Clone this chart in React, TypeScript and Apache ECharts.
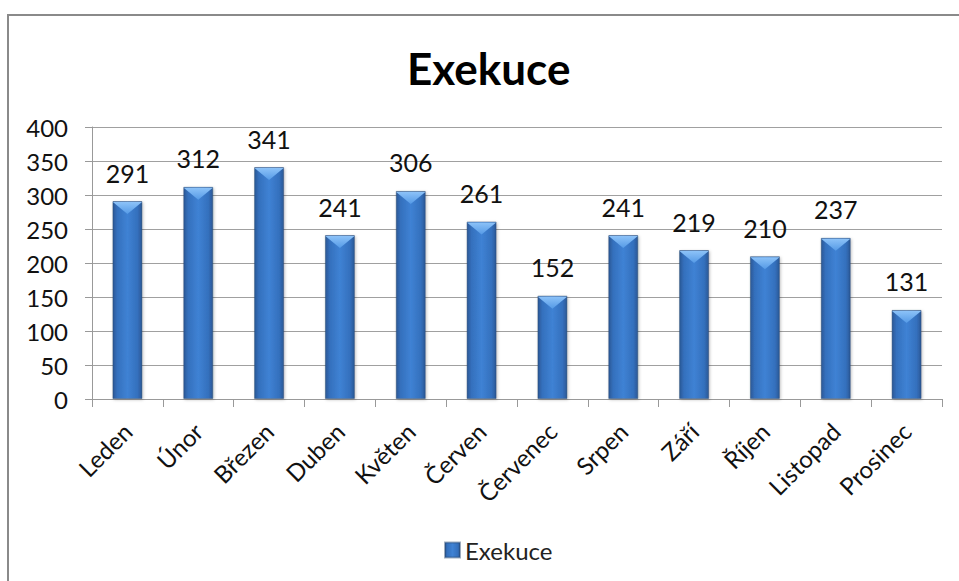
import React, { useEffect, useRef } from "react";
import * as echarts from "echarts";

const categories = ["Leden", "Únor", "Březen", "Duben", "Květen", "Červen", "Červenec", "Srpen", "Září", "Říjen", "Listopad", "Prosinec"];
const values = [291, 312, 341, 241, 306, 261, 152, 241, 219, 210, 237, 131];
const seriesName = "Exekuce";
const titleText = "Exekuce";

const FONT = "Lato, 'Open Sans', sans-serif";

export default function App() {
  const ref = useRef<HTMLDivElement>(null);
  useEffect(() => {
    if (!ref.current) return;
    const chart = echarts.init(ref.current, null, { renderer: "svg" });
    const barGrad = new echarts.graphic.LinearGradient(0, 0, 1, 0, [
      { offset: 0, color: "#2b5896" },
      { offset: 0.15, color: "#3470bd" },
      { offset: 0.5, color: "#3f82d4" },
      { offset: 0.85, color: "#3470bd" },
      { offset: 1, color: "#2b5896" },
    ]);
    chart.setOption({
      animation: false,
      backgroundColor: "#ffffff",
      title: {
        text: titleText,
        left: 402,
        top: 41,
        textStyle: { fontFamily: FONT, fontSize: 44, fontWeight: "bold", color: "#000" },
      },
      graphic: [
        {
          type: "rect",
          shape: { x: 8, y: 15, width: 980, height: 620 },
          style: { fill: "none", stroke: "#8a8a8a", lineWidth: 2 },
          silent: true,
        },
      ],
      legend: {
        data: [seriesName],
        bottom: 14,
        left: 439,
        icon: "rect",
        itemWidth: 15,
        itemHeight: 15,
        itemGap: 6,
        textStyle: { fontFamily: FONT, fontSize: 24, color: "#222" },
      },
      grid: { left: 92, top: 127, right: 17, bottom: 182, containLabel: false },
      xAxis: {
        type: "category",
        data: categories,
        boundaryGap: true,
        axisLine: { show: true, lineStyle: { color: "#999", width: 1 } },
        axisTick: { show: true, length: 8, alignWithLabel: false, lineStyle: { color: "#999" } },
        axisLabel: { rotate: 45, margin: 28, fontFamily: FONT, fontSize: 24, color: "#111", interval: 0 },
      },
      yAxis: {
        type: "value",
        min: 0,
        max: 400,
        interval: 50,
        axisLine: { show: true, lineStyle: { color: "#999", width: 1 } },
        axisTick: { show: true, length: 7, lineStyle: { color: "#999" } },
        axisLabel: { margin: 24, fontFamily: FONT, fontSize: 24, color: "#111" },
        splitLine: { show: true, lineStyle: { color: "#a0a0a0", width: 1 } },
      },
      series: [
        {
          name: seriesName,
          type: "bar",
          data: values,
          barWidth: 30,
          itemStyle: {
            color: barGrad,
            borderColor: "rgba(40,70,110,0.45)",
            borderWidth: 1,
            shadowColor: "rgba(0,0,0,0.25)",
            shadowBlur: 3,
            shadowOffsetX: 1,
            shadowOffsetY: 1,
          },
          label: {
            show: true,
            position: "top",
            distance: 16,
            fontFamily: FONT,
            fontSize: 25,
            color: "#111",
          },
          z: 2,
        },
        {
          name: "bevel",
          type: "pictorialBar",
          data: values,
          symbol: "path://M0,0 L10,0 L5,4 Z",
          symbolSize: [29, 12],
          symbolPosition: "end",
          symbolOffset: [0, 1],
          itemStyle: {
            color: new echarts.graphic.LinearGradient(0, 0, 0, 1, [
              { offset: 0, color: "#8cc2f8" },
              { offset: 1, color: "#559ae6" },
            ]),
          },
          label: { show: false },
          silent: true,
          z: 3,
        },
      ],
    });
    return () => chart.dispose();
  }, []);
  return (
    <div
      ref={ref}
      style={{ position: "fixed", left: 0, top: 0, width: 959, height: 581 }}
    />
  );
}
